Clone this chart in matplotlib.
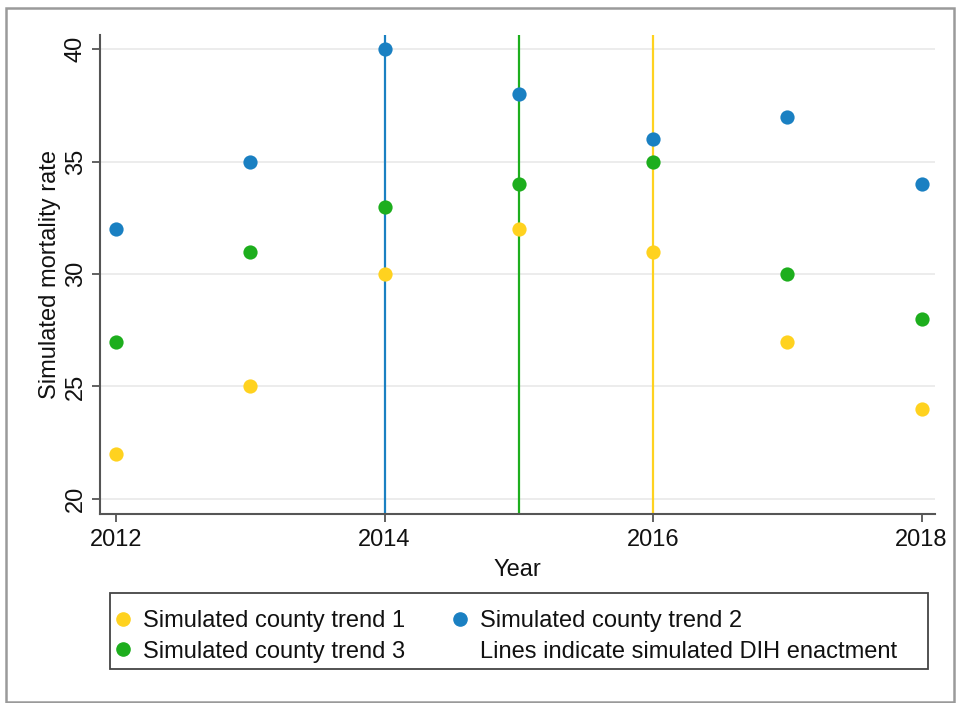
import matplotlib
matplotlib.use("Agg")
import matplotlib.pyplot as plt
from matplotlib.lines import Line2D
from matplotlib.patches import Rectangle

plt.rcParams['font.family'] = ['Liberation Sans', 'DejaVu Sans']

years = [2012, 2013, 2014, 2015, 2016, 2017, 2018]
trend1 = [22, 25, 30, 32, 31, 27, 24]
trend2 = [32, 35, 40, 38, 36, 37, 34]
trend3 = [27, 31, 33, 34, 35, 30, 28]
enactment = {"trend2": 2014, "trend3": 2015, "trend1": 2016}

yellow = "#FFD21F"
blue = "#1A80C2"
green = "#1DAE1D"

W, H = 957, 703
fig = plt.figure(figsize=(W / 100, H / 100), dpi=100)
ax = fig.add_axes([0.1045, 0.2688, 0.8725, 0.6812])

# outer frame around the whole graph
fig.patches.append(Rectangle((6 / W, 1 / H), 948 / W, 694 / H,
                             transform=fig.transFigure, fill=False,
                             edgecolor="#9a9a9a", linewidth=1.8, zorder=0))
# legend box
fig.patches.append(Rectangle((110 / W, 1 - 669 / H), 818 / W, 76 / H,
                             transform=fig.transFigure, fill=False,
                             edgecolor="#444444", linewidth=1.3, zorder=1))

ax.set_xlim(2011.88, 2018.1)
ax.set_ylim(19.33, 40.62)
ax.set_yticks([20, 25, 30, 35, 40])
ax.set_xticks([2012, 2014, 2016, 2018])
ax.grid(axis="y", color="#ececec", linewidth=1.4)
ax.set_axisbelow(True)

for spine in ["top", "right"]:
    ax.spines[spine].set_visible(False)
for spine in ["left", "bottom"]:
    ax.spines[spine].set_color("#555555")
    ax.spines[spine].set_linewidth(1.5)

ax.tick_params(axis="both", direction="out", length=6, width=1.3,
               color="#555555", labelsize=17, labelcolor="#111111")
ax.tick_params(axis="x", pad=5)
for lbl in ax.get_yticklabels():
    lbl.set_rotation(90)
    lbl.set_va("center")

# enactment lines
ax.axvline(enactment["trend2"], color=blue, linewidth=1.6, zorder=2)
ax.axvline(enactment["trend3"], color=green, linewidth=1.6, zorder=2)
ax.axvline(enactment["trend1"], color=yellow, linewidth=1.6, zorder=2)

ms = 105
ax.scatter(years, trend1, s=ms, color=yellow, zorder=3, linewidths=0)
ax.scatter(years, trend2, s=ms, color=blue, zorder=3, linewidths=0)
ax.scatter(years, trend3, s=ms, color=green, zorder=3, linewidths=0)

ax.set_xlabel("Year", fontsize=17, labelpad=5.5, color="#111111")
ax.set_ylabel("Simulated mortality rate", fontsize=17, labelpad=2.5, color="#111111")

handles = [
    Line2D([], [], marker="o", linestyle="", color=yellow, markersize=9.5),
    Line2D([], [], marker="o", linestyle="", color=green, markersize=9.5),
    Line2D([], [], marker="o", linestyle="", color=blue, markersize=9.5),
    Line2D([], [], linestyle="", marker=""),
]
labels = ["Simulated county trend 1", "Simulated county trend 3",
          "Simulated county trend 2", "Lines indicate simulated DIH enactment"]
leg = fig.legend(handles, labels, ncol=2, loc="center left",
                 bbox_to_anchor=(116 / W, 1 - 636.5 / H),
                 fontsize=17, frameon=False,
                 handlelength=0.6, handletextpad=0.55, borderpad=0,
                 labelspacing=0.36, columnspacing=2.0, borderaxespad=0)
for t in leg.get_texts():
    t.set_color("#111111")

fig.savefig("out.png", dpi=100, facecolor="white")
